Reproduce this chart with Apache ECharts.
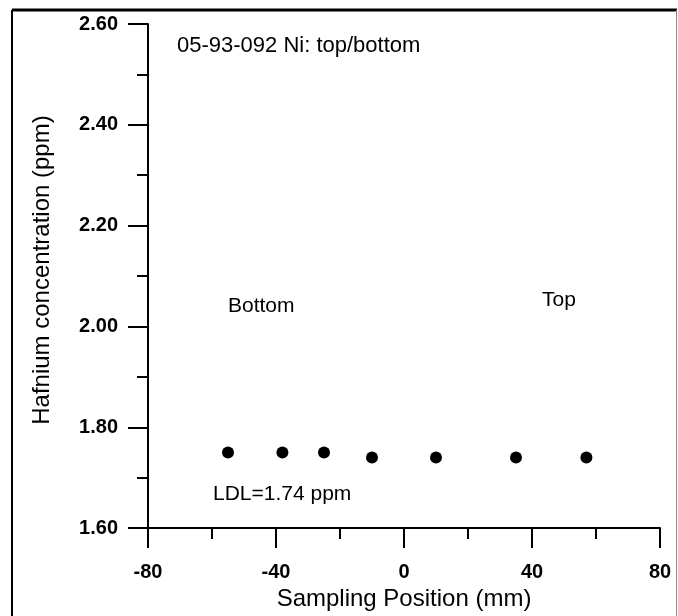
<!DOCTYPE html>
<html>
<head>
<meta charset="utf-8">
<title>Hafnium concentration</title>
<script src="https://cdn.jsdelivr.net/npm/echarts@6/dist/echarts.min.js"></script>
<style>
    html, body { margin: 0; padding: 0; background: #fff; }
    #storage { width: 678px; height: 616px; }
</style>
</head>
<body>
<div id="storage"></div>
<script>
// sampling positions (mm) and measured Hf (ppm)
var positions = [-55, -38, -25, -10, 10, 35, 57];
var hafnium = [1.75, 1.75, 1.75, 1.74, 1.74, 1.74, 1.74];

var xTicks = [-80, -40, 0, 40, 80];
var yTicks = [1.60, 1.80, 2.00, 2.20, 2.40, 2.60];

var notes = ["05-93-092 Ni: top/bottom", "Bottom", "Top", "LDL=1.74 ppm"];

var page = {
    font: '"Liberation Sans", Arial, Helvetica, sans-serif',
    init: function () {
        var points = [];
        for (var i = 0; i < positions.length; i++) {
            points[i] = [positions[i], hafnium[i]];
        }
        var storage = echarts.init(document.getElementById("storage"));
        storage.setOption(page.options(points), true);
    },
    axisCommon: function () {
        return {
            type: 'value',
            nameLocation: 'middle',
            splitLine: { show: false },
            axisLine: { show: true, onZero: false, lineStyle: { color: '#000', width: 2 } },
            axisTick: { show: true, inside: false, length: 20, lineStyle: { color: '#000', width: 2 } },
            minorTick: { show: true, splitNumber: 2, length: 11, lineStyle: { color: '#000', width: 2 } },
            minorSplitLine: { show: false }
        };
    },
    noteText: function (text, x, y, size) {
        return {
            type: 'text',
            x: x,
            y: y,
            style: {
                text: text,
                fill: '#000',
                font: 'normal ' + size + 'px ' + page.font,
                verticalAlign: 'middle',
                align: 'left'
            }
        };
    },
    options: function (points) {
        var xAxis = page.axisCommon();
        xAxis.min = xTicks[0];
        xAxis.max = xTicks[xTicks.length - 1];
        xAxis.interval = xTicks[1] - xTicks[0];
        xAxis.name = "Sampling Position (mm)";
        xAxis.nameGap = 55;
        xAxis.nameTextStyle = { fontFamily: page.font, fontSize: 24, color: '#000' };
        xAxis.axisLabel = { margin: 34, fontFamily: page.font, fontSize: 20, fontWeight: 'bold', color: '#000' };

        var yAxis = page.axisCommon();
        yAxis.min = yTicks[0];
        yAxis.max = yTicks[yTicks.length - 1];
        yAxis.interval = 0.2;
        yAxis.name = "Hafnium concentration (ppm)";
        yAxis.nameGap = 94;
        // shift the title a little upwards, as in the original
        yAxis.nameTextStyle = { fontFamily: page.font, fontSize: 24, color: '#000', padding: [0, 0, 0, 12] };
        yAxis.axisLabel = {
            margin: 30, fontFamily: page.font, fontSize: 20, fontWeight: 'bold', color: '#000',
            formatter: function (val) {
                return val.toFixed(2);
            }
        };

        return {
            animation: false,
            backgroundColor: '#fff',
            grid: { left: 148, right: 18, top: 24, bottom: 83, containLabel: false },
            xAxis: xAxis,
            yAxis: yAxis,
            graphic: [
                // outer frame of the figure
                { type: 'line', shape: { x1: 12, y1: 10, x2: 677, y2: 10 }, style: { stroke: '#000', lineWidth: 3 } },
                { type: 'line', shape: { x1: 12, y1: 10, x2: 12, y2: 616 }, style: { stroke: '#000', lineWidth: 2 } },
                { type: 'line', shape: { x1: 676.5, y1: 10, x2: 676.5, y2: 616 }, style: { stroke: '#888', lineWidth: 1 } },
                page.noteText(notes[0], 177, 46, 22),
                page.noteText(notes[1], 228, 306, 21),
                page.noteText(notes[2], 542, 300, 21),
                page.noteText(notes[3], 213, 494, 21)
            ],
            series: [
                {
                    name: "Hf",
                    type: 'scatter',
                    symbol: 'circle',
                    symbolSize: 12,
                    itemStyle: { color: '#000', opacity: 1 },
                    data: points
                }
            ]
        };
    }
};

page.init();
</script>
</body>
</html>
